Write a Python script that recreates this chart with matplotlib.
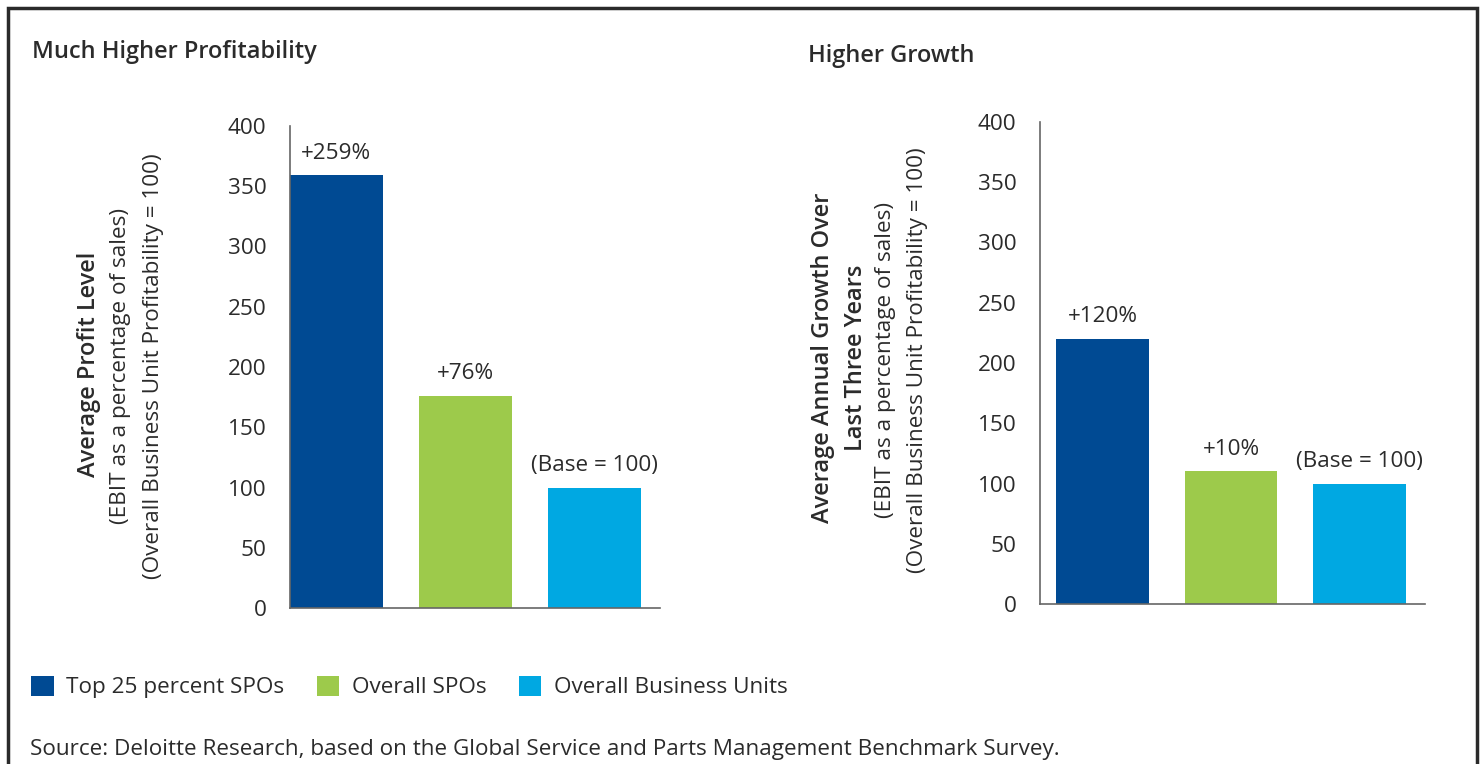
import matplotlib.pyplot as plt
from matplotlib.patches import Rectangle, Patch

plt.rcParams['font.family'] = ['Open Sans', 'DejaVu Sans']

groups = ["Top 25 percent SPOs", "Overall SPOs", "Overall Business Units"]
colors = ["#004a93", "#9dca4b", "#00a8e2"]

profit_values = [359, 176, 100]
profit_labels = ["+259%", "+76%", "(Base = 100)"]

growth_values = [220, 110, 100]
growth_labels = ["+120%", "+10%", "(Base = 100)"]

yticks = [0, 50, 100, 150, 200, 250, 300, 350, 400]
txt = "#2b2b2b"
fs = 16.2
fs_bold = 17

fig = plt.figure(figsize=(14.82, 7.64), dpi=100)

# frame around the whole graphic (bottom edge runs off the picture)
fig.patches.append(Rectangle((8 / 1482, -0.05), 1469 / 1482, 1.05 - 8 / 764,
                             transform=fig.transFigure, fill=False,
                             edgecolor="#2a2a2a", linewidth=2.5))


def panel(rect, values, labels, xlim):
    ax = fig.add_axes(rect)
    x = range(len(values))
    bars = ax.bar(x, values, width=0.72, color=colors)
    ax.set_xlim(*xlim)
    ax.set_ylim(0, 400)
    ax.set_yticks(yticks)
    ax.set_xticks([])
    ax.tick_params(axis="y", length=0, pad=17, labelsize=fs, labelcolor=txt)
    for s in ["top", "right"]:
        ax.spines[s].set_visible(False)
    for s in ["left", "bottom"]:
        ax.spines[s].set_color("#666666")
        ax.spines[s].set_linewidth(1.2)
    for b, lab in zip(bars, labels):
        ax.annotate(lab, (b.get_x() + b.get_width() / 2, b.get_height()),
                    xytext=(0, 16), textcoords="offset points",
                    ha="center", va="center", fontsize=fs, color=txt)
    return bars


panel([290 / 1482, 1 - 608 / 764, 370 / 1482, 482 / 764],
      profit_values, profit_labels, (-0.36, 2.51))
panel([1040 / 1482, 1 - 604 / 764, 385 / 1482, 482 / 764],
      growth_values, growth_labels, (-0.486, 2.51))

# titles
fig.text(32 / 1482, 1 - 52 / 764, "Much Higher Profitability", fontsize=fs_bold,
         fontweight="semibold", color=txt, ha="left", va="center")
fig.text(808 / 1482, 1 - 56 / 764, "Higher Growth", fontsize=fs_bold,
         fontweight="semibold", color=txt, ha="left", va="center")

# y-axis titles
def ylabel(xpx, ypx, s, bold=False):
    fig.text(xpx / 1482, 1 - ypx / 764, s, rotation=90,
             fontsize=fs_bold if bold else fs,
             fontweight="semibold" if bold else "normal", color=txt,
             ha="center", va="center")


ylabel(89, 364, "Average Profit Level", bold=True)
ylabel(121, 366, "(EBIT as a percentage of sales)")
ylabel(153, 366, "(Overall Business Unit Profitability = 100)")

ylabel(823, 358, "Average Annual Growth Over", bold=True)
ylabel(856, 358, "Last Three Years", bold=True)
ylabel(886, 360, "(EBIT as a percentage of sales)")
ylabel(918, 360, "(Overall Business Unit Profitability = 100)")

# legend
handles = [Patch(facecolor=c, edgecolor="none") for c in colors]
fig.legend(handles, groups, loc="center left",
           bbox_to_anchor=(22 / 1482, 1 - 687 / 764), ncol=3, frameon=False,
           fontsize=fs, handlelength=1.0, handleheight=1.0,
           handletextpad=0.55, columnspacing=1.45, labelcolor=txt,
           borderaxespad=0)

fig.text(30 / 1482, 1 - 750 / 764,
         "Source: Deloitte Research, based on the Global Service and Parts Management Benchmark Survey.",
         fontsize=fs, color=txt, ha="left", va="center")

fig.savefig("out.png", dpi=100)
